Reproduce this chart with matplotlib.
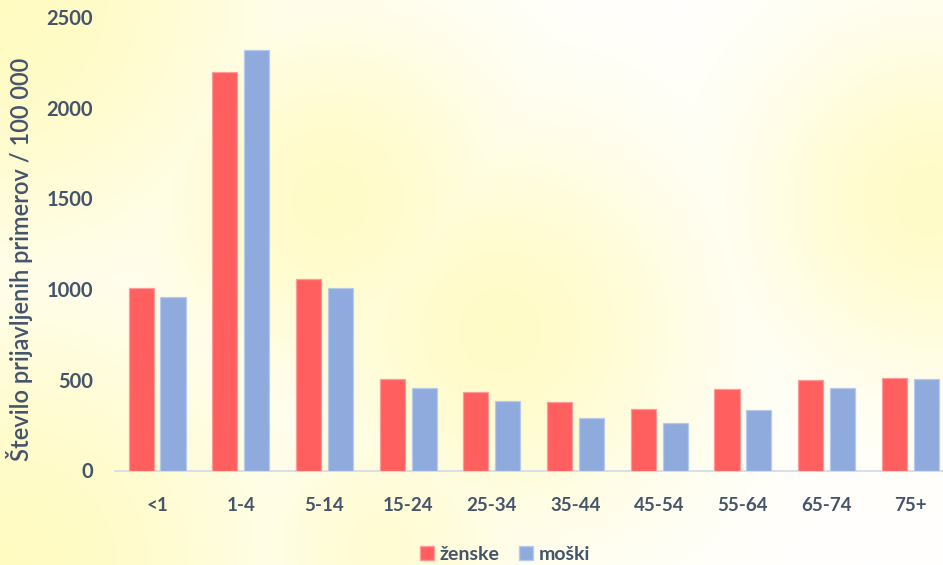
import numpy as np
import matplotlib
matplotlib.use("Agg")
import matplotlib.pyplot as plt
from matplotlib.patches import Patch

# Age groups and notification rates per 100 000 inhabitants
age_groups = ["<1", "1-4", "5-14", "15-24", "25-34", "35-44", "45-54", "55-64", "65-74", "75+"]
zenske = [1005, 2198, 1054, 503, 433, 376, 341, 448, 497, 510]
moski = [955, 2318, 1004, 453, 383, 291, 263, 334, 453, 503]
y_ticks = [0, 500, 1000, 1500, 2000, 2500]

series_labels = ["ženske", "moški"]
y_title = "Število prijavljenih primerov / 100 000"

TEXT = "#44546A"
RED, RED_EDGE = "#FF5F5F", "#FF9A9A"
BLUE, BLUE_EDGE = "#8FAADC", "#B8CAEA"
FONT = ["Lato", "DejaVu Sans"]

W, H = 943, 565
fig = plt.figure(figsize=(W / 100, H / 100), dpi=100)

# soft yellow wash behind the chart
yy, xx = np.mgrid[0:H, 0:W].astype(float)
wash = np.zeros((H, W))
for cx, cy, r, a in [(0, 0, 200, 1.0), (330, 200, 140, 0.9), (500, 330, 150, 0.9),
                     (930, 200, 130, 0.9), (10, 565, 200, 1.0), (380, 545, 110, 0.7)]:
    wash = np.maximum(wash, a * np.exp(-((xx - cx) ** 2 + (yy - cy) ** 2) / (2 * r ** 2)))
white = np.array([1.0, 1.0, 1.0])
yellow = np.array([1.0, 0.985, 0.76])
img = white + (yellow - white) * wash[..., None]
bg = fig.add_axes([0, 0, 1, 1], zorder=-10)
bg.imshow(img, aspect="auto", extent=[0, 1, 0, 1], origin="upper")
bg.axis("off")

ax = fig.add_axes([115.2 / W, 94.5 / H, 837 / W, 453.5 / H])
ax.patch.set_alpha(0)

x = np.arange(len(age_groups))
bw, off = 0.30, 0.191
ax.bar(x - off, zenske, bw, color=RED, edgecolor=RED_EDGE, linewidth=0.9, zorder=3)
ax.bar(x + off, moski, bw, color=BLUE, edgecolor=BLUE_EDGE, linewidth=0.9, zorder=3)

ax.set_xlim(-0.5, len(age_groups) - 0.5)
ax.set_ylim(0, 2500)
ax.set_yticks(y_ticks)
ax.set_yticklabels([str(v) for v in y_ticks])
ax.set_xticks(x)
ax.set_xticklabels(age_groups)

for s in ["top", "right", "left"]:
    ax.spines[s].set_visible(False)
ax.spines["bottom"].set_color("#D5DCE8")
ax.spines["bottom"].set_linewidth(1.3)
ax.tick_params(axis="both", length=0)
ax.tick_params(axis="y", pad=16)
ax.tick_params(axis="x", pad=19)
for lab in ax.get_yticklabels():
    lab.set_fontsize(14.5)
for lab in ax.get_xticklabels():
    lab.set_fontsize(13.5)
for lab in ax.get_yticklabels() + ax.get_xticklabels():
    lab.set_fontfamily(FONT)
    lab.set_fontweight("bold")
    lab.set_color(TEXT)

fig.text(20 / W, 1 - 259 / H, y_title, rotation=90, ha="center", va="center",
         fontsize=17, color=TEXT, family=FONT, fontweight="semibold")

handles = [Patch(facecolor=RED, edgecolor=RED_EDGE), Patch(facecolor=BLUE, edgecolor=BLUE_EDGE)]
leg = fig.legend(handles, series_labels, loc="center", bbox_to_anchor=(505 / W, 1 - 554 / H),
                 ncol=2, frameon=False, handlelength=0.7, handleheight=0.7,
                 handletextpad=0.3, columnspacing=1.0,
                 prop={"family": FONT, "weight": "bold", "size": 14})
for t in leg.get_texts():
    t.set_color(TEXT)

fig.savefig("out.png", dpi=100)
